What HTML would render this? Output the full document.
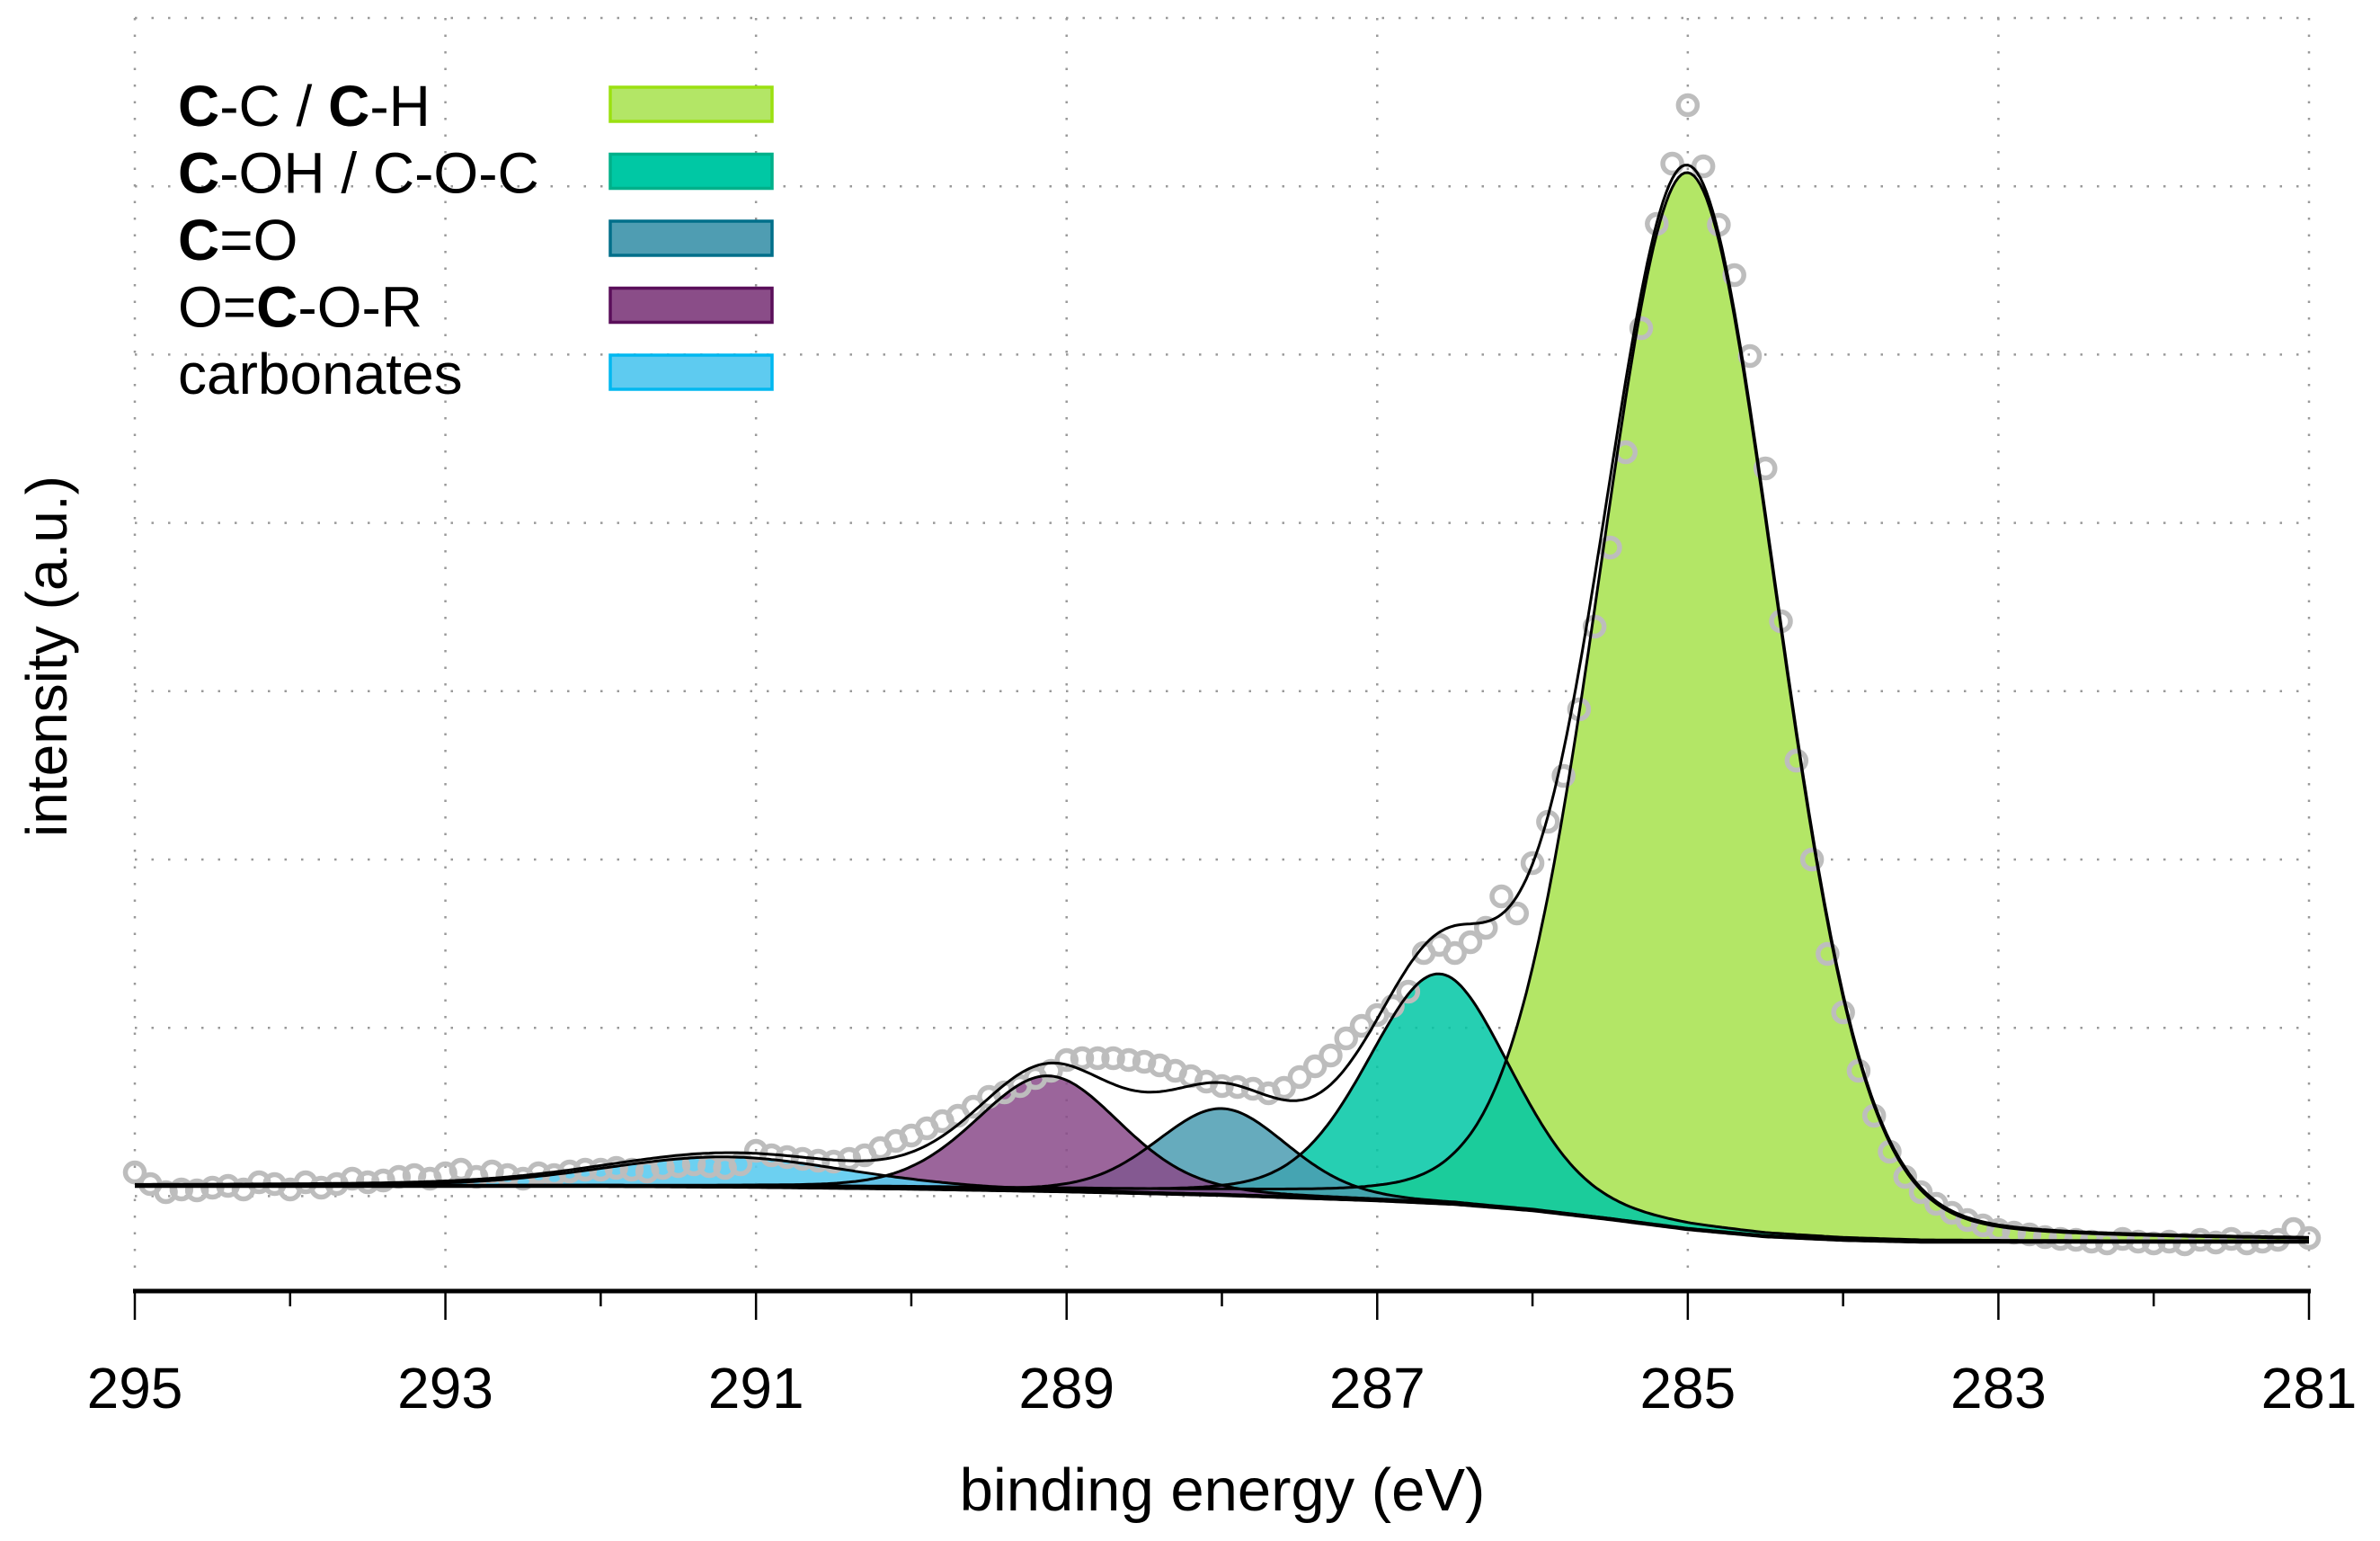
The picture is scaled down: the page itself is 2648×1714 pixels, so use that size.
<!DOCTYPE html>
<html><head><meta charset="utf-8">
<style>
html,body{margin:0;padding:0;background:#fff;}
svg{display:block;font-family:"Liberation Sans",sans-serif;}
</style></head>
<body>
<svg id="chart" width="2648" height="1714" viewBox="0 0 2648 1714" xmlns="http://www.w3.org/2000/svg">
<g id="grid"></g>
<g id="fills"></g>
<g id="points"></g>
<g id="lines"></g>
<g id="axis"></g>
<text x="1360" y="1680" font-size="67" text-anchor="middle">binding energy (eV)</text>
<text transform="translate(74,730) rotate(-90)" font-size="64" text-anchor="middle">intensity (a.u.)</text>
<g id="legend"></g>
</svg>
<script>
// ---- data ----
const energyStart = 295.0;
const energyStep = -0.1;
const counts = [
77,64,55,58,57,60,62,58,66,64,
58,66,60,64,70,66,68,72,74,70,
76,80,72,78,74,70,76,74,78,80,
80,82,80,78,82,84,86,84,82,86,
101,96,94,92,90,89,92,96,104,112,
118,126,134,140,150,161,166,173,182,190,
202,204,204,204,202,200,196,190,184,178,
173,172,170,165,171,183,195,207,226,240,
252,262,278,321,330,321,333,349,384,365,
421,467,518,592,684,772,878,1016,1132,1199,
1264,1196,1131,1075,985,860,690,535,425,320,
255,190,140,100,72,55,42,32,24,18,
13,10,8,5,3,2,0,-2,3,0,
-2,0,-3,2,-1,3,-2,0,2,14,4
];
const bgEnergies = [281,283.5,284,284.5,285,285.5,286,286.5,287,288,289,290,291,292,295];
const bgValues   = [0,0,2,6,14,25,35,42,46,52,56,59,61,62,62];
const compNames   = ["C-C / C-H","C-OH / C-O-C","C=O","O=C-O-R","carbonates"];
const compCenters = [285.0,286.6,288.0,289.12,291.2];
const compHeights = [1175,255,96,128,33];
const compFwhm    = [1.35,1.1,1.0,1.1,1.85];
const compMix     = [0.12,0.25,0.2,0.2,0.2];
const compFill    = ["#b3e666","#00c7a5","#4b9cb2","#8a4a8a","#5ccbf0"];
const compAlpha   = [1,0.85,0.85,0.85,0.9];
const xTicks = [295,293,291,289,287,285,283,281];

// ---- scales ----
const X0=150, X1=2569, Y0=1381;
const xs = e => X0 + (295-e)*(X1-X0)/14;
const ys = v => Y0 - v;
function bg(e){
  if(e<=bgEnergies[0]) return bgValues[0];
  for(let i=1;i<bgEnergies.length;i++){
    if(e<=bgEnergies[i]){const t=(e-bgEnergies[i-1])/(bgEnergies[i]-bgEnergies[i-1]);return bgValues[i-1]+t*(bgValues[i]-bgValues[i-1]);}
  }
  return bgValues[bgValues.length-1];
}
function pv(e,i){
  const h=compFwhm[i]/2, d=(e-compCenters[i])/h;
  return compHeights[i]*((1-compMix[i])*Math.exp(-Math.LN2*d*d)+compMix[i]/(1+d*d));
}
const NS='http://www.w3.org/2000/svg';
function mk(tag,attrs,parent){const el=document.createElementNS(NS,tag);for(const k in attrs)el.setAttribute(k,attrs[k]);parent.appendChild(el);return el;}

// grid
const grid=document.getElementById('grid');
for(let k=0;k<8;k++){
  const y=20+k*187.2;
  const l=mk('line',{x1:X0,x2:X1,y1:y,y2:y,stroke:'#999','stroke-width':2.5,'stroke-dasharray':'2.5 16'},grid);
  
  
}
xTicks.forEach(t=>{
  const x=xs(t);
  const l=mk('line',{x1:x,x2:x,y1:20,y2:1425,stroke:'#999','stroke-width':2.5,'stroke-dasharray':'2.5 16'},grid);
  
  
});

// fills
const fills=document.getElementById('fills'), lines=document.getElementById('lines');
const E=[];for(let e=281;e<=295.0001;e+=0.02)E.push(e);
compNames.forEach((n,i)=>{
  let top='',bot='';
  const pts=E.filter(e=>Math.abs(e-compCenters[i])<6 && pv(e,i)>0.6);
  pts.forEach((e,j)=>{top+=(j?'L':'M')+xs(e).toFixed(1)+','+ys(bg(e)+pv(e,i)).toFixed(1);});
  for(let j=pts.length-1;j>=0;j--){bot+='L'+xs(pts[j]).toFixed(1)+','+ys(bg(pts[j])).toFixed(1);}
  const p=mk('path',{d:top+bot+'Z',fill:compFill[i],'fill-opacity':compAlpha[i],stroke:'none'},fills);
  
  
  const o=mk('path',{d:top,fill:'none',stroke:'#000','stroke-width':3},lines);
  
  
});
// background line
let bd='';E.forEach((e,j)=>{bd+=(j?'L':'M')+xs(e).toFixed(1)+','+ys(bg(e)).toFixed(1);});
const bl=mk('path',{d:bd,fill:'none',stroke:'#000','stroke-width':4.5},lines);



// points
const pg=document.getElementById('points');
counts.forEach((v,i)=>{
  const e=energyStart+i*energyStep;
  const c=mk('circle',{cx:xs(e),cy:ys(v),r:10.5,fill:'none',stroke:'#bdbdbd','stroke-width':5.5},pg);
  
  
});
// envelope
let ed='';E.forEach((e,j)=>{let s=bg(e);for(let i=0;i<compNames.length;i++)s+=pv(e,i);ed+=(j?'L':'M')+xs(e).toFixed(1)+','+ys(s).toFixed(1);});
const el=mk('path',{d:ed,fill:'none',stroke:'#000','stroke-width':3},lines);



// axis
const ax=document.getElementById('axis');
const axl=mk('line',{x1:X0-2,x2:X1+2,y1:1436,y2:1436,stroke:'#000','stroke-width':5},ax);


for(let t=295;t>=281;t--){
  const major=(t%2===1);
  const tk=mk('line',{x1:xs(t),x2:xs(t),y1:1436,y2:major?1468:1453,stroke:'#000','stroke-width':2.5},ax);
  
  
}
xTicks.forEach(t=>{
  const tx=mk('text',{x:xs(t),y:1566,'font-size':64,'text-anchor':'middle'},ax);
  tx.textContent=t;
  
  
});
</script>
<script>
(function(){
const NS='http://www.w3.org/2000/svg';
const lg=document.getElementById('legend');
const labels=[['<tspan font-weight="bold">C</tspan>-C / <tspan font-weight="bold">C</tspan>-H','#b3e666','#9be010'],
['<tspan font-weight="bold">C</tspan>-OH / C-O-C','#00c8a4','#00b08a'],
['<tspan font-weight="bold">C</tspan>=O','#4f9db2','#006f8a'],
['O=<tspan font-weight="bold">C</tspan>-O-R','#8a4d88','#5a0f5a'],
['carbonates','#5ecbf0','#00b8f0']];
labels.forEach((l,i)=>{
  const y=140+i*74.5;
  const t=document.createElementNS(NS,'text');
  t.setAttribute('x',198);t.setAttribute('y',y);t.setAttribute('font-size',64);
  t.innerHTML=l[0];
  
  
  lg.appendChild(t);
  const r=document.createElementNS(NS,'rect');
  r.setAttribute('x',679);r.setAttribute('y',y-43);r.setAttribute('width',180);r.setAttribute('height',38);
  r.setAttribute('fill',l[1]);r.setAttribute('stroke',l[2]);r.setAttribute('stroke-width',3.5);
  
  
  lg.appendChild(r);
});
})();
</script>
</body></html>
